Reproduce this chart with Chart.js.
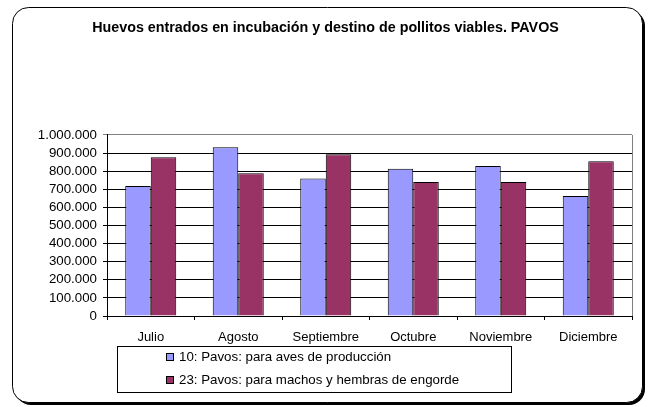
<!DOCTYPE html>
<html lang="es">
<head>
    <meta charset="UTF-8">
    <title>Huevos entrados en incubación - PAVOS</title>
    <script src="https://cdn.jsdelivr.net/npm/chart.js"></script>
    <style>
        body { margin: 0; background: #fff; }
        #wrap { width: 651px; height: 407px; }
    </style>
</head>
<body>
    <div id="wrap"><canvas id="chart" width="651" height="407"></canvas></div>

    <script>
        // datos
        const categories = ['Julio', 'Agosto', 'Septiembre', 'Octubre', 'Noviembre', 'Diciembre'];
        const seriesNames = ['10: Pavos: para aves de producción', '23: Pavos: para machos y hembras de engorde'];
        const produccion = [718000, 932000, 759000, 814000, 829000, 663000];
        const engorde = [877000, 788000, 893000, 740000, 740000, 855000];
        const yMax = 1000000;
        const yStep = 100000;

        const fontFamily = "'Liberation Sans', Arial, sans-serif";

        function miles(v) {
            return String(v).replace(/\B(?=(\d{3})+(?!\d))/g, '.');
        }

        function roundRect(ctx, x, y, w, h, r) {
            ctx.beginPath();
            ctx.moveTo(x + r, y);
            ctx.lineTo(x + w - r, y);
            ctx.arcTo(x + w, y, x + w, y + r, r);
            ctx.lineTo(x + w, y + h - r);
            ctx.arcTo(x + w, y + h, x + w - r, y + h, r);
            ctx.lineTo(x + r, y + h);
            ctx.arcTo(x, y + h, x, y + h - r, r);
            ctx.lineTo(x, y + r);
            ctx.arcTo(x, y, x + r, y, r);
            ctx.closePath();
        }

        // marco redondeado con sombra
        const framePlugin = {
            id: 'frame',
            beforeDraw(chart) {
                const ctx = chart.ctx;
                ctx.save();
                ctx.fillStyle = '#000';
                roundRect(ctx, 15, 10, 630, 395, 16);
                ctx.fill();
                ctx.fillStyle = '#fff';
                roundRect(ctx, 12.5, 7.5, 630, 395, 16);
                ctx.fill();
                ctx.strokeStyle = '#000';
                ctx.lineWidth = 1;
                ctx.stroke();
                ctx.restore();
            },
            afterDraw(chart) {
                const ctx = chart.ctx;
                const a = chart.chartArea;
                ctx.save();
                // borde derecho del área de trazado
                ctx.strokeStyle = '#808080';
                ctx.lineWidth = 1;
                ctx.beginPath();
                ctx.moveTo(Math.round(a.right) + 0.5, a.top);
                ctx.lineTo(Math.round(a.right) + 0.5, a.bottom);
                ctx.stroke();

                // leyenda con recuadro
                ctx.strokeStyle = '#000';
                ctx.strokeRect(117.5, 346.5, 394, 46);
                ctx.font = '13.3px ' + fontFamily;
                ctx.textBaseline = 'middle';
                ctx.textAlign = 'left';
                chart.data.datasets.forEach((ds, i) => {
                    const cy = 357 + i * 23;
                    ctx.fillStyle = ds.backgroundColor;
                    ctx.fillRect(166.5, cy - 3.5, 7, 7);
                    ctx.strokeStyle = '#000';
                    ctx.strokeRect(166.5, cy - 3.5, 7, 7);
                    ctx.fillStyle = '#000';
                    ctx.fillText(ds.label, 179, cy + 0.5);
                });
                ctx.restore();
            }
        };

        const ctx = document.getElementById('chart').getContext('2d');
        new Chart(ctx, {
            type: 'bar',
            data: {
                labels: categories,
                datasets: [{
                    label: seriesNames[0],
                    data: produccion,
                    backgroundColor: '#9999FF',
                    borderColor: '#000',
                    borderWidth: 1
                }, {
                    label: seriesNames[1],
                    data: engorde,
                    backgroundColor: '#993366',
                    borderColor: '#000',
                    borderWidth: 1
                }]
            },
            options: {
                responsive: false,
                animation: false,
                layout: { padding: { left: 19, right: 19, top: 0, bottom: 0 } },
                datasets: {
                    bar: { categoryPercentage: 0.583, barPercentage: 1 }
                },
                plugins: {
                    legend: { display: false },
                    tooltip: { enabled: false },
                    title: {
                        display: true,
                        text: 'Huevos entrados en incubación y destino de pollitos viables. PAVOS',
                        color: '#000',
                        font: { family: fontFamily, size: 14.3, weight: 'bold', lineHeight: 1.2 },
                        padding: { top: 19.5, bottom: 98.3 }
                    }
                },
                scales: {
                    x: {
                        afterFit(scale) { scale.height = 91; },
                        grid: {
                            offset: true,
                            drawOnChartArea: false,
                            drawTicks: true,
                            tickLength: 4,
                            color: '#000'
                        },
                        border: { color: '#000' },
                        ticks: {
                            color: '#000',
                            padding: 10,
                            maxRotation: 0,
                            font: { family: fontFamily, size: 13 }
                        }
                    },
                    y: {
                        min: 0,
                        max: yMax,
                        afterFit(scale) { scale.width = 88; },
                        grid: {
                            color: c => (c.tick && c.tick.value === yMax) ? '#808080' : '#000',
                            drawTicks: true,
                            tickLength: 4
                        },
                        border: { color: '#000' },
                        ticks: {
                            stepSize: yStep,
                            autoSkip: false,
                            color: '#000',
                            padding: 6,
                            font: { family: fontFamily, size: 13.3 },
                            callback: v => miles(v)
                        }
                    }
                }
            },
            plugins: [framePlugin]
        });
    </script>
</body>
</html>
